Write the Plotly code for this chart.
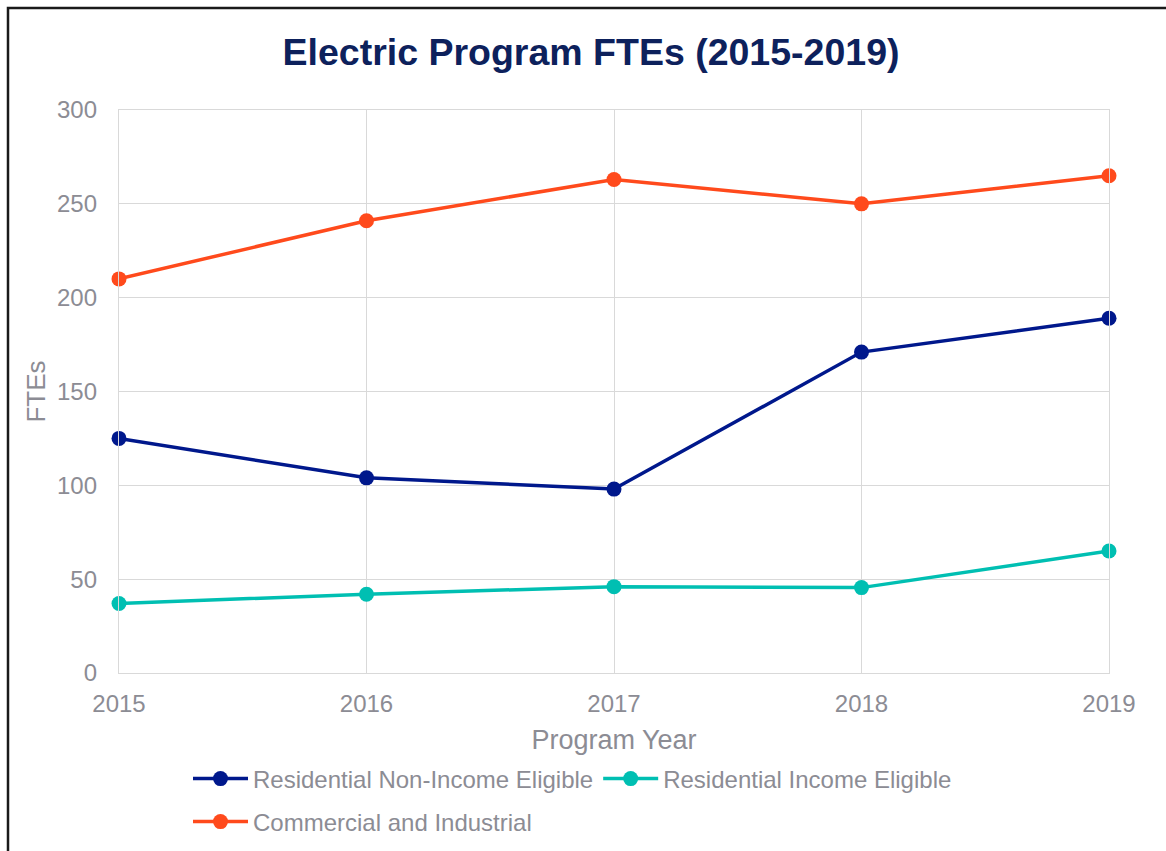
import plotly.graph_objects as go

years = [2015, 2016, 2017, 2018, 2019]
res_non_ie = [125, 104, 98, 171, 189]
res_ie = [37, 42, 46, 45.5, 65]
cni = [210, 241, 263, 250, 265]

series_names = ["Residential Non-Income Eligible", "Residential Income Eligible", "Commercial and Industrial"]
series_colors = ["#00188C", "#00BFB2", "#FF4A1C"]
series_legends = ["legend", "legend", "legend2"]

y_ticks = [0, 50, 100, 150, 200, 250, 300]

FONT = "Liberation Sans, Arial, sans-serif"
GREY = "#8c8c94"
GRID = "#d9d9d9"

fig = go.Figure()
for name, vals, col, lg in zip(series_names, [res_non_ie, res_ie, cni], series_colors, series_legends):
    fig.add_trace(go.Scatter(
        x=years, y=vals, name=name, mode="lines+markers",
        line=dict(color=col, width=3.5),
        marker=dict(color=col, size=15),
        cliponaxis=False, legend=lg,
    ))

W, H = 1166, 851
L, R, T, B = 119, 57, 110, 178
pw, ph = W - L - R, H - T - B

def px_x(x):
    return (x - L) / pw

def px_y(y):
    return (H - B - y) / ph

fig.update_layout(
    width=W, height=H,
    margin=dict(l=L, r=R, t=T, b=B, autoexpand=False),
    paper_bgcolor="white", plot_bgcolor="white",
    font=dict(family=FONT, color=GREY, size=24),
    title=dict(
        text="<b>Electric Program FTEs (2015-2019)</b>",
        font=dict(family=FONT, size=37.5, color="#0D215C"),
        x=591 / W, xanchor="center", y=1 - 52 / H, yanchor="middle",
    ),
    xaxis=dict(
        range=[2015, 2019], tickvals=years, ticktext=[str(y) for y in years],
        showgrid=True, gridcolor=GRID, gridwidth=1.3,
        showline=True, linecolor=GRID, linewidth=1.3, mirror=True,
        zeroline=False, ticks="", ticklabelstandoff=9,
        tickfont=dict(size=24, color=GREY),
        title=dict(text="Program Year", font=dict(size=27, color=GREY), standoff=14),
        automargin=False,
    ),
    yaxis=dict(
        range=[0, 300], tickvals=y_ticks,
        showgrid=True, gridcolor=GRID, gridwidth=1.3,
        showline=True, linecolor=GRID, linewidth=1.3, mirror=True,
        zeroline=False, ticks="", ticklabelstandoff=16,
        tickfont=dict(size=24, color=GREY),
        title=dict(text="FTEs", font=dict(size=26, color=GREY), standoff=3),
        automargin=False,
    ),
    legend=dict(
        orientation="h", x=px_x(188), xanchor="left", y=px_y(779), yanchor="middle",
        font=dict(size=24, color=GREY), itemwidth=55, bgcolor="rgba(0,0,0,0)",
        tracegroupgap=0,
    ),
    legend2=dict(
        orientation="h", x=px_x(188), xanchor="left", y=px_y(822), yanchor="middle",
        font=dict(size=24, color=GREY), itemwidth=55, bgcolor="rgba(0,0,0,0)",
    ),
    showlegend=True,
    shapes=[dict(
        type="rect", xref="paper", yref="paper",
        x0=px_x(8), x1=px_x(1180), y0=px_y(870), y1=px_y(8),
        line=dict(color="#1a1a1a", width=2.5), fillcolor="rgba(0,0,0,0)", layer="above",
    )],
)

fig.write_html("out.html")
